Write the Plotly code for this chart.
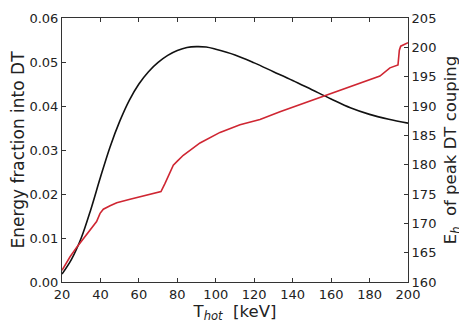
import plotly.graph_objects as go

# black curve: energy fraction into DT (left axis)
t_frac = [20, 25, 30, 35, 40, 45, 50, 55, 60, 65, 70, 75, 80, 85, 90, 95,
          100, 110, 120, 130, 140, 150, 160, 170, 180, 190, 200]
frac = [0.0018, 0.0052, 0.0100, 0.0165, 0.0238, 0.0307, 0.0365, 0.0413, 0.0450,
        0.0478, 0.0499, 0.0515, 0.0526, 0.0533, 0.0535, 0.0534, 0.0529, 0.0516,
        0.0498, 0.0478, 0.0458, 0.0437, 0.0416, 0.0396, 0.0381, 0.0370, 0.0361]

# red curve: E_h of peak DT coupling (right axis)
t_eh = [20, 24.2, 27.6, 31.1, 34.6, 38, 39.8, 41.5, 45, 48.5, 55.4, 62.3, 69.3,
        71.5, 73.6, 76.2, 77.9, 80, 83.1, 91.8, 102.2, 112.6, 123, 133.4, 143.8,
        156.8, 169.8, 185.4, 190.6, 194.8, 195.5, 196.2, 200]
eh = [162.0, 164.3, 165.9, 167.4, 169.0, 170.3, 171.7, 172.4, 173.0, 173.5,
      174.1, 174.7, 175.2, 175.4, 176.8, 178.8, 179.9, 180.6, 181.6, 183.7,
      185.5, 186.8, 187.7, 189.0, 190.2, 191.8, 193.2, 195.1, 196.5, 197.0,
      199.5, 200.2, 200.8]

x_ticks = list(range(20, 201, 20))
y_ticks = [0.00, 0.01, 0.02, 0.03, 0.04, 0.05, 0.06]
y2_ticks = list(range(160, 206, 5))

font = "DejaVu Sans, Arial, sans-serif"

fig = go.Figure()
fig.add_trace(go.Scatter(x=t_frac, y=frac, mode='lines',
                         line=dict(color='#111111', width=1.6), line_shape='spline'))
fig.add_trace(go.Scatter(x=t_eh, y=eh, mode='lines', yaxis='y2',
                         line=dict(color='#cf2632', width=1.6)))

# page body has an 8px margin, so the margins below are shifted by that
fig.update_layout(
    width=467, height=327,
    template='plotly_white',
    showlegend=False,
    plot_bgcolor='white',
    paper_bgcolor='white',
    margin=dict(l=54, r=67, t=10, b=53, autoexpand=False),
    font=dict(family=font, size=13, color='#222222'),
    xaxis=dict(
        range=[20, 200], tickvals=x_ticks, ticks='inside', ticklen=4,
        showgrid=False, zeroline=False, showline=True, linecolor='#333333',
        linewidth=1, mirror='ticks', tickcolor='#333333',
        title=dict(text="T<sub><i>hot</i></sub>  [keV]", font=dict(size=16.5), standoff=4),
    ),
    yaxis=dict(
        range=[0, 0.06], tickvals=y_ticks, tickformat='.2f', ticks='inside',
        ticklen=4, showgrid=False, zeroline=False, showline=True,
        linecolor='#333333', linewidth=1, tickcolor='#333333',
        title=dict(text="Energy fraction into DT", font=dict(size=17), standoff=4),
    ),
    yaxis2=dict(
        range=[160, 205], tickvals=y2_ticks, overlaying='y', side='right',
        ticks='inside', ticklen=4, showgrid=False, zeroline=False,
        showline=True, linecolor='#333333', linewidth=1, tickcolor='#333333',
        title=dict(text="E<sub><i>h</i></sub>  of peak DT couping", font=dict(size=16.5), standoff=9),
    ),
)

fig.write_html("out.html")
